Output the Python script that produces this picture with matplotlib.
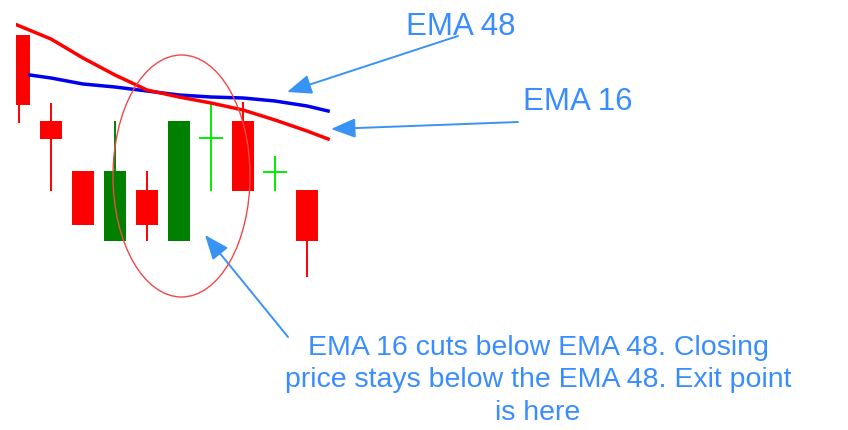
import numpy as np
import matplotlib.pyplot as plt
from matplotlib.patches import Rectangle, Ellipse

plt.rcParams['font.family'] = ['Liberation Sans', 'DejaVu Sans']

# candle prices (arbitrary units, higher = up)
opens = [395, 309, 259, 189, 240, 189, 292, 309, 258, 240]
highs = [395, 327, 259, 309, 259, 309, 327, 328, 274, 240]
lows = [307, 239, 205, 189, 189, 189, 239, 239, 239, 153]
closes = [325, 291, 205, 259, 205, 309, 292, 239, 258, 189]

# moving averages, x in candle index units
ema16_x = [-0.06, 1, 2, 3, 4, 5, 6, 7, 8, 9, 9.66]
ema16_y = [405, 391, 372, 355, 340, 333, 327, 320, 310, 299, 291]
ema48_x = [0.34, 1, 2, 3, 4, 5, 6, 7, 8, 9, 9.66]
ema48_y = [355, 352, 346, 343, 339, 335, 333, 332, 329, 324, 319]

label_48 = 'EMA 48'
label_16 = 'EMA 16'
note = 'EMA 16 cuts below EMA 48. Closing\nprice stays below the EMA 48. Exit point\nis here'

W, H = 848, 431
fig = plt.figure(figsize=(W / 100, H / 100), dpi=100)

# price axes: candles are 32 px apart, first one centred at x=19, chart clipped at x=16
ax = fig.add_axes([16 / W, 0, 1 - 16 / W, 1])
ax.set_xlim((16 - 19) / 32, (W - 19) / 32)
ax.set_ylim(0, H)
ax.axis('off')

body_w = 22 / 32
for i, (o, h, l, c) in enumerate(zip(opens, highs, lows, closes)):
    if c > o:
        col = '#008000'
    elif c < o:
        col = '#ff0000'
    else:
        col = '#00ee00'
    ax.plot([i, i], [l, h], color=col, lw=1.4, solid_capstyle='butt', zorder=2)
    if c == o:
        ax.plot([i - body_w / 2, i + body_w / 2], [o, o], color=col, lw=1.4, zorder=2)
    else:
        ax.add_patch(Rectangle((i - body_w / 2, min(o, c)), body_w, abs(c - o),
                               facecolor=col, edgecolor='none', zorder=3))

ax.plot(ema48_x, ema48_y, color='#0000ee', lw=2.5, zorder=4)
ax.plot(ema16_x, ema16_y, color='#ff0000', lw=2.5, zorder=5)

# overlay for annotations in pixel coordinates
ann = fig.add_axes([0, 0, 1, 1])
ann.set_xlim(0, W)
ann.set_ylim(H, 0)
ann.axis('off')
ann.patch.set_alpha(0)

ann.add_patch(Ellipse((181.5, 177), 137, 242, fill=False, edgecolor='#f04848', lw=1.0, zorder=6))

txt_col = '#3a8dff'
arr_col = '#3993f5'
aprops = dict(arrowstyle='-|>,head_length=1.0,head_width=0.4', color=arr_col, lw=1.4,
              mutation_scale=15, shrinkA=0, shrinkB=0)

ann.annotate('', xy=(287, 93), xytext=(458, 37), arrowprops=aprops)
ann.annotate('', xy=(331, 130), xytext=(518, 123), arrowprops=aprops)
ann.annotate('', xy=(205, 236), xytext=(288, 338), arrowprops=aprops)

ann.text(406, 35, label_48, color=txt_col, fontsize=22.5, ha='left', va='baseline')
ann.text(523, 110, label_16, color=txt_col, fontsize=22.5, ha='left', va='baseline')
ann.text(538, 335, note, color=txt_col, fontsize=20.5, ha='center', va='top',
         multialignment='center', linespacing=1.32)

fig.savefig('out.png', dpi=100)
